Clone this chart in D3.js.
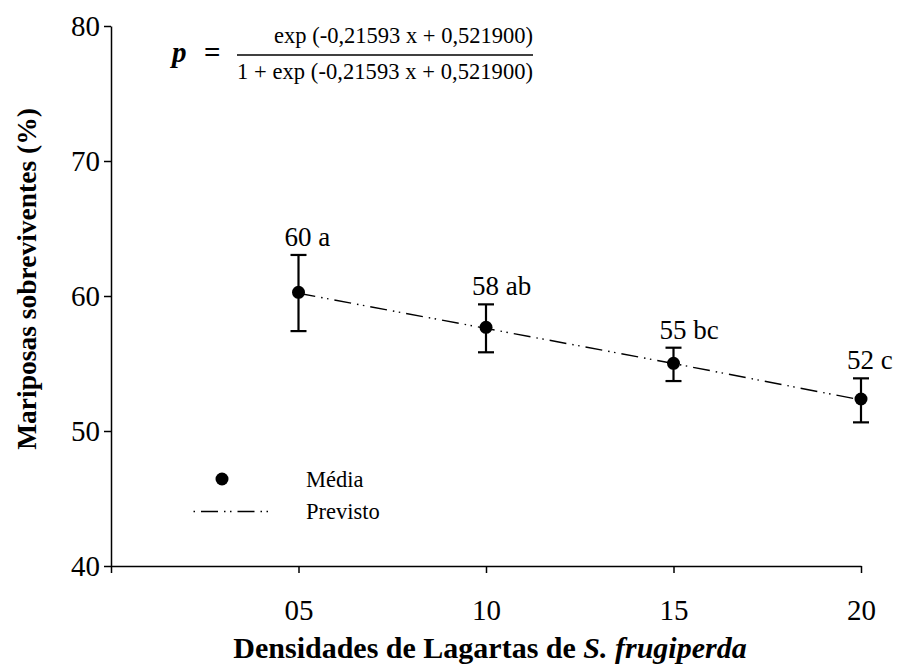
<!DOCTYPE html>
<html>
<head>
<meta charset="utf-8">
<script src="https://cdn.jsdelivr.net/npm/d3@7/dist/d3.min.js"></script>
<style>
  html, body { margin: 0; padding: 0; background: #fff; }
  svg { display: block; }
  text { font-family: "Liberation Serif", "Times New Roman", serif; fill: #000; }
</style>
</head>
<body>
<svg id="chart" width="899" height="668"></svg>
<script>
// Larval densities (x), observed survival means with error bars, and model prediction
const densities = [5, 10, 15, 20];
const tickLabels = ["05", "10", "15", "20"];
const means = [60.27, 57.68, 55.01, 52.37];
const errUpper = [63.04, 59.38, 56.17, 53.9];
const errLower = [57.4, 55.83, 53.7, 50.64];
const letters = ["a", "ab", "bc", "c"];
const predicted = [60.2, 57.6, 55.0, 52.3];
const yTicks = [40, 50, 60, 70, 80];

const serif = "'Liberation Serif', 'Times New Roman', serif";
const svg = d3.select("#chart");

const x = d3.scaleLinear().domain([0, 20]).range([111, 861]);
const y = d3.scaleLinear().domain([40, 80]).range([566, 26]);

// Axes
const xAxis = d3.axisBottom(x)
  .tickValues([0].concat(densities))
  .tickSize(7)
  .tickSizeOuter(0)
  .tickFormat((d) => { const i = densities.indexOf(d); return i < 0 ? "" : tickLabels[i]; });

const gx = svg.append("g").attr("transform", `translate(0,${y(40)})`).call(xAxis);
gx.attr("font-family", serif);
gx.select(".domain").attr("stroke-width", 1.5);
gx.selectAll(".tick line").attr("stroke-width", 1.5);
gx.selectAll(".tick text")
  .attr("dy", 0).attr("y", 54)
  .style("font-family", serif).style("font-size", "29px");

const yAxis = d3.axisLeft(y).tickValues(yTicks).tickSize(7).tickSizeOuter(0).tickFormat(d3.format("d"));
const gy = svg.append("g").attr("transform", `translate(${x(0)},0)`).call(yAxis);
gy.attr("font-family", serif);
gy.select(".domain").attr("stroke-width", 1.5);
gy.selectAll(".tick line").attr("stroke-width", 1.5);
gy.selectAll(".tick text")
  .attr("x", -11)
  .style("font-family", serif).style("font-size", "29px");

// Axis titles
svg.append("text")
  .attr("transform", `translate(36,${(y(40) + y(80)) / 2 - 17}) rotate(-90)`)
  .attr("text-anchor", "middle")
  .style("font-size", "27.5px").style("font-weight", "bold")
  .text("Mariposas sobreviventes (%)");

const xt = svg.append("text")
  .attr("x", 490).attr("y", 658)
  .attr("text-anchor", "middle")
  .style("font-size", "30px").style("font-weight", "bold");
xt.append("tspan").text("Densidades de Lagartas de ");
xt.append("tspan").style("font-style", "italic").text("S. frugiperda");

// Predicted curve (dash-dot-dot)
const dashPattern = "17,6,1.5,4.5,1.5,6";
const line = d3.line().x((d, i) => x(densities[i])).y((d) => y(d));
svg.append("path")
  .datum(predicted)
  .attr("d", line)
  .attr("fill", "none")
  .attr("stroke", "#000")
  .attr("stroke-width", 1.4)
  .attr("stroke-dasharray", dashPattern);

// Error bars
const eb = svg.append("g").attr("stroke", "#000").attr("stroke-width", 2.2);
densities.forEach((d, i) => {
  const cx = x(d);
  eb.append("line").attr("x1", cx).attr("x2", cx).attr("y1", y(errUpper[i])).attr("y2", y(errLower[i]));
  eb.append("line").attr("x1", cx - 8).attr("x2", cx + 8).attr("y1", y(errUpper[i])).attr("y2", y(errUpper[i]));
  eb.append("line").attr("x1", cx - 8).attr("x2", cx + 8).attr("y1", y(errLower[i])).attr("y2", y(errLower[i]));
});

// Means
svg.append("g").selectAll("circle")
  .data(means)
  .join("circle")
  .attr("cx", (d, i) => x(densities[i]))
  .attr("cy", (d) => y(d))
  .attr("r", 6.5)
  .attr("fill", "#000");

// Mean labels with significance letters
svg.append("g").selectAll("text")
  .data(means)
  .join("text")
  .attr("x", (d, i) => x(densities[i]) - 14)
  .attr("y", (d, i) => y(errUpper[i]) - 9)
  .style("font-size", "27px")
  .text((d, i) => `${Math.round(d)} ${letters[i]}`);

// Legend
const lg = svg.append("g");
lg.append("circle").attr("cx", 222).attr("cy", 479).attr("r", 6.5).attr("fill", "#000");
lg.append("text").attr("x", 306).attr("y", 487).style("font-size", "22.5px").text("Média");
lg.append("line").attr("x1", 193).attr("x2", 272).attr("y1", 511.5).attr("y2", 511.5)
  .attr("stroke", "#000").attr("stroke-width", 1.4).attr("stroke-dasharray", dashPattern)
  .attr("stroke-dashoffset", -8);
lg.append("text").attr("x", 306).attr("y", 519).style("font-size", "22.5px").text("Previsto");

// Model equation
const eq = svg.append("g");
eq.append("text").attr("x", 172).attr("y", 62)
  .style("font-size", "29px").style("font-weight", "bold").style("font-style", "italic")
  .text("p");
eq.append("text").attr("x", 204).attr("y", 62)
  .style("font-size", "29px").style("font-weight", "bold")
  .text("=");
eq.append("line").attr("x1", 237).attr("x2", 533).attr("y1", 55).attr("y2", 55)
  .attr("stroke", "#000").attr("stroke-width", 1.5);
eq.append("text").attr("x", 533).attr("y", 43).attr("text-anchor", "end")
  .style("font-size", "22.5px").text("exp (-0,21593 x + 0,521900)");
eq.append("text").attr("x", 533).attr("y", 79).attr("text-anchor", "end")
  .attr("textLength", 296).attr("lengthAdjust", "spacing")
  .style("font-size", "22.5px").text("1 + exp (-0,21593 x + 0,521900)");
</script>
</body>
</html>
